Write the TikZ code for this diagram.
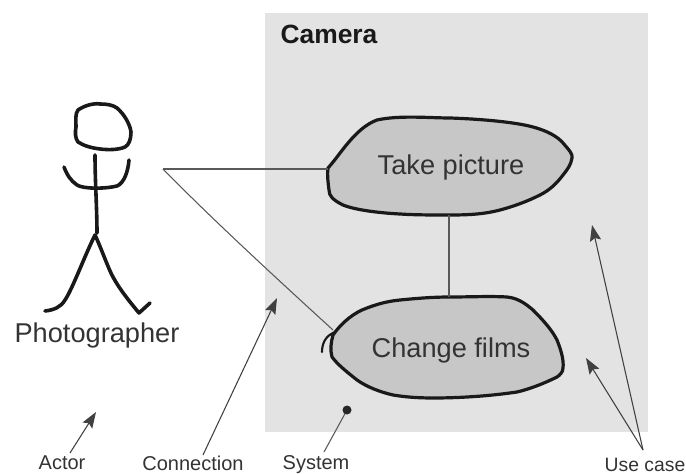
\documentclass[tikz,border=0pt]{standalone}
\usepackage{fontspec}
\setmainfont{Liberation Sans}
\usetikzlibrary{arrows.meta}

\tikzset{every picture/.style={line width=0.75pt}}
\tikzset{
	sketch/.style={line width=2.7pt,line cap=round,line join=round,color=black!90},
	usecase/.style={sketch,line width=2.4pt,fill=black!22},
	link/.style={line width=0.8pt,color=black!65},
	pointer/.style={line width=0.8pt,color=black!75,-{Stealth[length=12pt,width=8.5pt,inset=2pt]}},
	bigtext/.style={font=\fontsize{20.4}{24}\selectfont,text=black!80},
	smalltext/.style={font=\fontsize{15}{18}\selectfont,text=black!80}
}

\begin{document}
\begin{tikzpicture}[x=0.75pt,y=0.75pt,yscale=-1,xscale=1]
	\useasboundingbox (0,0) rectangle (686,474);

	%System box
	\fill [black!11] (265,13) rectangle (648,432);

	%Use case: take picture
	\draw [usecase] (328,168) .. controls (340,155) and (355,128) .. (377,120) .. controls (400,115) and (430,118) .. (450,118) .. controls (480,119) and (515,122) .. (533,127) .. controls (548,131) and (558,137) .. (563,143) .. controls (569,150) and (573,154) .. (572,158) .. controls (571,165) and (567,170) .. (563,175) .. controls (557,183) and (550,190) .. (540,195) .. controls (528,201) and (515,206) .. (500,210) .. controls (485,214) and (470,215) .. (450,215) .. controls (430,215) and (415,215) .. (400,214) .. controls (380,213) and (355,210) .. (343,205) .. controls (333,200) and (329,196) .. (329,190) .. controls (328,182) and (327,175) .. (328,168) -- cycle ;
	%Use case: change films
	\draw [usecase] (333,335) .. controls (342,322) and (355,312) .. (367,308) .. controls (380,303) and (390,301) .. (400,300) .. controls (420,298) and (435,297) .. (450,297) .. controls (470,297) and (490,296) .. (507,297) .. controls (518,298) and (526,304) .. (533,310) .. controls (543,320) and (552,330) .. (557,340) .. controls (561,350) and (564,360) .. (563,368) .. controls (563,372) and (560,375) .. (557,377) .. controls (545,383) and (530,389) .. (517,392) .. controls (490,396) and (460,398) .. (433,398) .. controls (418,398) and (405,397) .. (393,395) .. controls (380,392) and (367,387) .. (357,380) .. controls (347,372) and (338,365) .. (332,357) .. controls (330,350) and (331,342) .. (333,335) -- cycle ;
	\draw [sketch,line width=1.6pt] (322,352) .. controls (322,344) and (325,336) .. (335,332) ;

	%Actor
	\draw [sketch] (78,110) .. controls (85,105) and (95,103) .. (100,104) .. controls (107,104) and (113,105) .. (117,108) .. controls (124,114) and (130,124) .. (131,132) .. controls (131,139) and (129,145) .. (125,147) .. controls (118,150) and (108,150) .. (100,149) .. controls (92,148) and (84,146) .. (78,142) .. controls (75,138) and (75,132) .. (76,127) .. controls (76,120) and (75,114) .. (78,110) -- cycle ;
	\draw [sketch] (95,155) .. controls (95,180) and (97,210) .. (97,233) ;
	\draw [sketch] (64,167) .. controls (67,175) and (71,181) .. (77,185) .. controls (83,189) and (105,189) .. (117,186) .. controls (124,183) and (128,172) .. (129,160) ;
	\draw [sketch] (45,311) .. controls (54,310) and (61,307) .. (65,300) .. controls (72,290) and (85,255) .. (95,235) .. controls (102,250) and (108,268) .. (113,277) .. controls (120,290) and (130,302) .. (139,313) -- (150,303) ;

	% Text Node
	\draw (329,34) node (camera) [bigtext,font=\fontsize{19.8}{24}\selectfont\bfseries,text=black!90] {Camera};
	% Text Node
	\draw (97,335) node (photographer) [bigtext] {Photographer};
	% Text Node
	\draw (451,167) node (takepicture) [bigtext] {Take picture};
	% Text Node
	\draw (451,350) node (changefilms) [bigtext] {Change films};
	% Text Node
	\draw (62,463) node (actor) [smalltext] {Actor};
	% Text Node
	\draw (193,463) node (connection) [smalltext] {Connection};
	% Text Node
	\draw (316,465) node (system) [smalltext] {System};
	% Text Node
	\draw (645,465) node (usecases) [smalltext,font=\fontsize{14.5}{18}\selectfont] {Use case};

	%Ends of the lines
	\coordinate (hands) at (163,169);
	\coordinate (takeleft) at (328,169);
	\coordinate (changeleft) at (333,330);
	\coordinate (takebottom) at (449,215);
	\coordinate (changetop) at (449,297);
	\coordinate (actortip) at (96,412);
	\coordinate (connectiontip) at (277,298);
	\coordinate (systemdot) at (347,410);
	\coordinate (takecorner) at (592,225);
	\coordinate (changecorner) at (586,358);
	\coordinate (actorstart) at (70,453);
	\coordinate (connectionstart) at (203,455);
	\coordinate (systemstart) at (324,452);
	\coordinate (usecasestart) at (643,450);

	%Straight Lines
	\draw [link] (hands) -- (takeleft) ;
	\draw [link] (hands) .. controls (205,212) and (265,268) .. (changeleft) ;
	\draw [link] (takebottom) -- (changetop) ;

	%Pointers
	\draw [pointer] (actorstart) -- (actortip) ;
	\draw [pointer] (connectionstart) -- (connectiontip) ;
	\draw [link] (systemstart) -- (systemdot) ;
	\fill [black!85] (systemdot) circle (4.5) ;
	\draw [pointer] (usecasestart) -- (takecorner) ;
	\draw [pointer] (usecasestart) -- (changecorner) ;

\end{tikzpicture}
\end{document}
